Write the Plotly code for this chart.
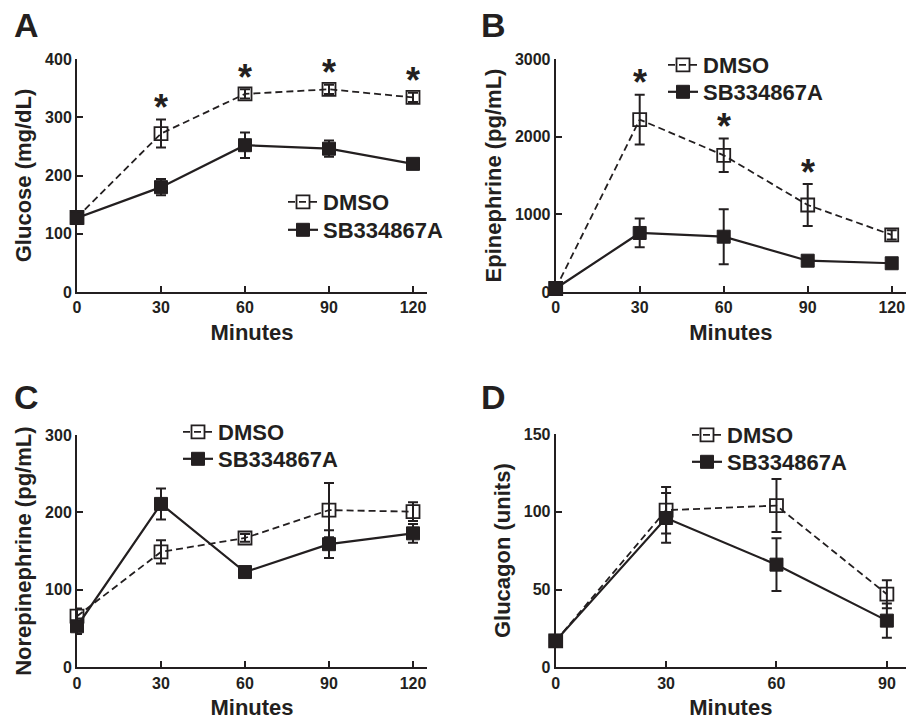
import plotly.graph_objects as go

minutes_long = [0, 30, 60, 90, 120]
minutes_short = [0, 30, 60, 90]

# Panel A: Glucose (mg/dL)
glu_dmso = [128, 272, 340, 348, 334]
glu_dmso_err = [6, 24, 8, 8, 8]
glu_sb = [127, 180, 252, 246, 220]
glu_sb_err = [6, 14, 22, 14, 6]
glu_star = [False, True, True, True, True]

# Panel B: Epinephrine (pg/mL)
epi_dmso = [45, 2220, 1760, 1120, 735]
epi_dmso_err = [30, 320, 215, 270, 60]
epi_sb = [45, 760, 712, 403, 370]
epi_sb_err = [30, 185, 355, 35, 65]
epi_star = [False, True, True, True, False]

# Panel C: Norepinephrine (pg/mL)
ne_dmso = [66, 149, 167, 203, 201]
ne_dmso_err = [10, 15, 5, 35, 12]
ne_sb = [53, 211, 123, 159, 173]
ne_sb_err = [10, 20, 5, 18, 12]

# Panel D: Glucagon (units)
gcg_dmso = [17, 101, 104, 47]
gcg_dmso_err = [3, 15, 17, 9]
gcg_sb = [17, 96, 66, 30]
gcg_sb_err = [3, 16, 17, 11]

W, H = 906, 720
INK = "#231f20"
FAM = "Liberation Sans, Arial, sans-serif"


def px_x(p):
    return p / W


def px_y(p):
    return 1 - p / H


fig = go.Figure()

panels = [
    dict(key="", x=minutes_long, d=glu_dmso, de=glu_dmso_err, s=glu_sb, se=glu_sb_err,
         dom_x=(77, 427), dom_y=(59, 292), xr=125, yr=400, ydt=100, xt=minutes_long,
         ytitle="Glucose (mg/dL)", leg=(283, 202, 230), star=glu_star, letter="A", lpos=(26, 25)),
    dict(key="2", x=minutes_long, d=epi_dmso, de=epi_dmso_err, s=epi_sb, se=epi_sb_err,
         dom_x=(555.7, 906), dom_y=(59, 292), xr=125.1, yr=3000, ydt=1000, xt=minutes_long,
         ytitle="Epinephrine (pg/mL)", leg=(663, 65, 92), star=epi_star, letter="B", lpos=(493, 25)),
    dict(key="3", x=minutes_long, d=ne_dmso, de=ne_dmso_err, s=ne_sb, se=ne_sb_err,
         dom_x=(77, 427), dom_y=(435, 667.3), xr=125, yr=300, ydt=100, xt=minutes_long,
         ytitle="Norepinephrine (pg/mL)", leg=(178, 432, 459), star=None, letter="C", lpos=(26, 397)),
    dict(key="4", x=minutes_short, d=gcg_dmso, de=gcg_dmso_err, s=gcg_sb, se=gcg_sb_err,
         dom_x=(555.7, 906), dom_y=(434, 667.3), xr=95.2, yr=150, ydt=50, xt=minutes_short,
         ytitle="Glucagon (units)", leg=(687, 435, 462), star=None, letter="D", lpos=(493, 397)),
]

annotations = []
leg_font = dict(family=FAM, size=22, color=INK, weight="bold")
for i, p in enumerate(panels):
    k = p["key"]
    xa = "x" + k
    ya = "y" + k
    leg_d = "legend" + ("" if i == 0 else str(2 * i + 1))
    leg_s = "legend" + str(2 * i + 2)
    fig.add_trace(go.Scatter(
        x=p["x"], y=p["d"], name="DMSO", xaxis=xa, yaxis=ya, legend=leg_d,
        mode="lines+markers", cliponaxis=False,
        line=dict(color=INK, width=1.8, dash="7px,4px"),
        marker=dict(symbol="square-open", size=13, color=INK, line=dict(width=1.8, color=INK)),
        error_y=dict(type="data", array=p["de"], color=INK, thickness=2, width=5),
    ))
    fig.add_trace(go.Scatter(
        x=p["x"], y=p["s"], name="SB334867A", xaxis=xa, yaxis=ya, legend=leg_s,
        mode="lines+markers", cliponaxis=False,
        line=dict(color=INK, width=2.2),
        marker=dict(symbol="square", size=13, color=INK, line=dict(width=1, color=INK)),
        error_y=dict(type="data", array=p["se"], color=INK, thickness=2, width=5),
    ))
    axis_common = dict(showline=True, linecolor=INK, linewidth=2, showgrid=False, zeroline=False,
                       ticks="inside", ticklen=6, tickwidth=2, tickcolor=INK,
                       tickfont=dict(family=FAM, size=16, color=INK, weight="bold"),
                       automargin=False)
    xkey = "xaxis" + k
    ykey = "yaxis" + k
    fig.update_layout({
        xkey: dict(axis_common, domain=[px_x(p["dom_x"][0]), px_x(p["dom_x"][1])], range=[0, p["xr"]],
                   tickvals=p["xt"], anchor=ya,
                   title=dict(text="Minutes", standoff=9,
                              font=dict(family=FAM, size=22, color=INK, weight="bold"))),
        ykey: dict(axis_common, domain=[px_y(p["dom_y"][1]), px_y(p["dom_y"][0])], range=[0, p["yr"]],
                   tick0=0, dtick=p["ydt"], anchor=xa,
                   title=dict(text=p["ytitle"], standoff=7,
                              font=dict(family=FAM, size=22, color=INK, weight="bold"))),
        leg_d: dict(x=px_x(p["leg"][0]), y=px_y(p["leg"][1]), xanchor="left", yanchor="middle",
                    bgcolor="rgba(0,0,0,0)", borderwidth=0, font=leg_font),
        leg_s: dict(x=px_x(p["leg"][0]), y=px_y(p["leg"][2]), xanchor="left", yanchor="middle",
                    bgcolor="rgba(0,0,0,0)", borderwidth=0, font=leg_font),
    })
    annotations.append(dict(text=p["letter"], xref="paper", yref="paper",
                            x=px_x(p["lpos"][0]), y=px_y(p["lpos"][1]),
                            xanchor="center", yanchor="middle", showarrow=False,
                            font=dict(family=FAM, size=34, color=INK, weight="bold")))
    if p["star"]:
        for xv, yv, ev, st in zip(p["x"], p["d"], p["de"], p["star"]):
            if st:
                annotations.append(dict(text="*", xref=xa, yref=ya, x=xv, y=yv + ev,
                                        xanchor="center", yanchor="middle", yshift=12,
                                        showarrow=False,
                                        font=dict(family=FAM, size=36, color=INK, weight="bold")))

fig.update_layout(width=W, height=H, margin=dict(l=0, r=0, t=0, b=0),
                  paper_bgcolor="white", plot_bgcolor="white", showlegend=True,
                  annotations=annotations)

fig.write_html("out.html", config={"displayModeBar": False},
               post_script="document.body.style.margin='0px';document.body.style.overflow='hidden';")
